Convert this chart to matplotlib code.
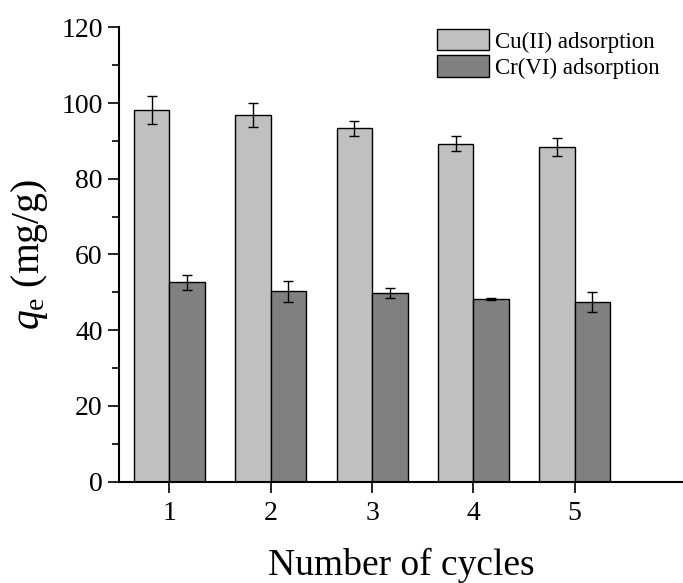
import numpy as np
import matplotlib.pyplot as plt
from matplotlib.ticker import MultipleLocator

plt.rcParams['font.family'] = ['Liberation Serif', 'DejaVu Serif']
plt.rcParams['mathtext.fontset'] = 'custom'
plt.rcParams['mathtext.rm'] = 'Liberation Serif'
plt.rcParams['mathtext.it'] = 'Liberation Serif:italic'

cycles = [1, 2, 3, 4, 5]
cu_qe = [98.2, 96.8, 93.3, 89.3, 88.3]
cu_err = [3.6, 3.2, 2.1, 1.9, 2.4]
cr_qe = [52.6, 50.3, 49.8, 48.3, 47.4]
cr_err = [2.1, 2.8, 1.3, 0.3, 2.6]

w = 0.35
x = np.array(cycles)

fig = plt.figure(figsize=(6.83, 5.83), dpi=100)
ax = fig.add_axes([0.174, 0.174, 0.826, 0.779])

ekw = dict(elinewidth=1, capthick=1, ecolor='black')
ax.bar(x - w/2, cu_qe, w, yerr=cu_err, capsize=3.3, color='#c0c0c0',
       edgecolor='black', linewidth=1, error_kw=ekw, label='Cu(II) adsorption')
ax.bar(x + w/2, cr_qe, w, yerr=cr_err, capsize=3.3, color='#808080',
       edgecolor='black', linewidth=1, error_kw=ekw, label='Cr(VI) adsorption')

ax.set_xlim(0.5, 6.07)
ax.set_ylim(0, 120)
ax.set_xticks(cycles)
ax.yaxis.set_major_locator(MultipleLocator(20))
ax.yaxis.set_minor_locator(MultipleLocator(10))
ax.tick_params(axis='both', which='major', length=8, width=1.2, labelsize=20, direction='out')
ax.tick_params(axis='y', which='minor', length=5, width=1.2, direction='out')
ax.tick_params(axis='x', pad=6)

for s in ['top', 'right']:
    ax.spines[s].set_visible(False)
for s in ['left', 'bottom']:
    ax.spines[s].set_linewidth(1.5)

ax.set_xlabel('Number of cycles', fontsize=27, labelpad=16)
ax.set_ylabel(r'$q_\mathrm{e}$ (mg/g)', fontsize=28.5, labelpad=8)

ax.legend(loc='upper left', bbox_to_anchor=(0.564, 0.996), frameon=False, fontsize=16.5,
          handlelength=2.25, handleheight=1.05, handletextpad=0.3, labelspacing=0.12,
          borderaxespad=0, borderpad=0)

fig.savefig('out.png', dpi=100)
